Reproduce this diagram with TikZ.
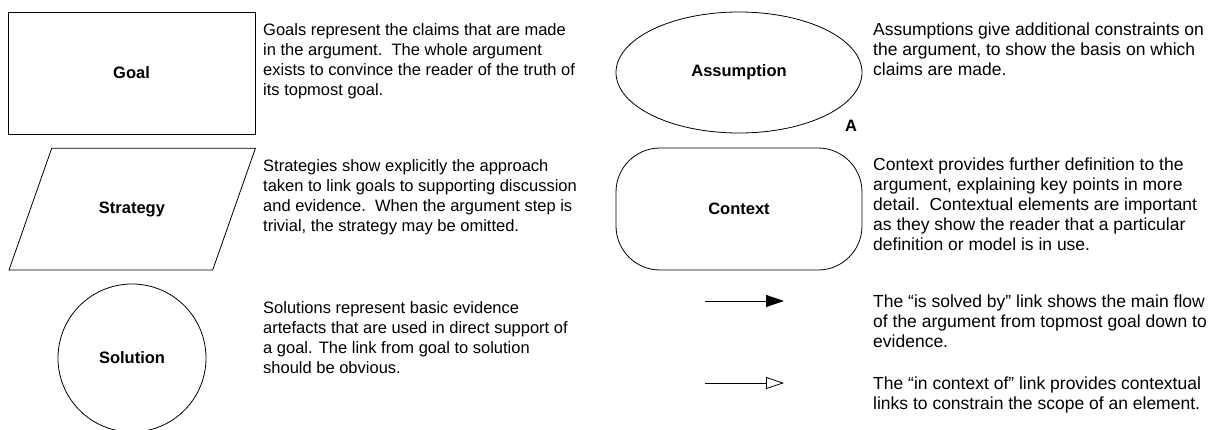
\documentclass[tikz,border=0pt]{standalone}
\usepackage{fontspec}
\setmainfont{Liberation Sans}
\usepackage{tikz}
\usetikzlibrary{arrows.meta,shapes.geometric}

\begin{document}
\begin{tikzpicture}[x=1pt, y=-1pt,
  elem/.style={draw, line width=0.8pt, inner sep=0pt, font=\fontsize{16.5}{20}\selectfont\bfseries},
  label/.style={font=\fontsize{16.5}{20}\selectfont\bfseries},
  desc/.style={anchor=north west, align=left, inner sep=0pt, font=\fontsize{16.5}{20}\selectfont},
  rdesc/.style={desc, font=\fontsize{17.5}{20}\selectfont}]

\useasboundingbox (0,0) rectangle (1213,429);

% left column
\node[elem, rectangle, minimum width=247pt, minimum height=122pt] (goal) at (131.5,73) {Goal};
\node[desc] (goaltext) at (263,23.7) {Goals represent the claims that are made\\in the argument.\ \ The whole argument\\exists to convince the reader of the truth of\\its topmost goal.};

\draw[line width=0.8pt] (51.7,148.3) -- (255.4,148.3) -- (212.7,270) -- (9,270) -- cycle;
\node[label] (strategy) at (132,209) {Strategy};
\node[desc] (strategytext) at (263,159.7) {Strategies show explicitly the approach\\taken to link goals to supporting discussion\\and evidence.\ \ When the argument step is\\trivial, the strategy may be omitted.};

\node[elem, circle, minimum size=148pt] (solution) at (132,358) {Solution};
\node[desc] (solutiontext) at (263,301) {Solutions represent basic evidence\\artefacts that are used in direct support of\\a goal. The link from goal to solution\\should be obvious.};

% right column
\node[elem, ellipse, minimum width=246pt, minimum height=121pt] (assumption) at (739,72.5) {Assumption};
\node[label] (amark) at (851,126) {A};
\node[rdesc] (assumptiontext) at (873,22.9) {Assumptions give additional constraints on\\the argument, to show the basis on which\\claims are made.};

\node[elem, rectangle, rounded corners=44pt, minimum width=246pt, minimum height=122pt] (context) at (739,209) {Context};
\node[rdesc] (contexttext) at (873,157.9) {Context provides further definition to the\\argument, explaining key points in more\\detail.\ \ Contextual elements are important\\as they show the reader that a particular\\definition or model is in use.};

\coordinate (solvedA) at (705,301);
\coordinate (solvedB) at (784,301);
\draw[line width=0.8pt, -{Triangle[length=18pt,width=12pt]}] (solvedA) -- (solvedB);
\node[rdesc] (solvedtext) at (873,294.2) {The “is solved by” link shows the main flow\\of the argument from topmost goal down to\\evidence.};

\coordinate (ctxA) at (705,383);
\coordinate (ctxB) at (784,383);
\draw[line width=0.8pt, -{Triangle[open,length=18pt,width=12pt]}] (ctxA) -- (ctxB);
\node[rdesc] (ctxtext) at (873,376.2) {The “in context of” link provides contextual\\links to constrain the scope of an element.};

\end{tikzpicture}
\end{document}
